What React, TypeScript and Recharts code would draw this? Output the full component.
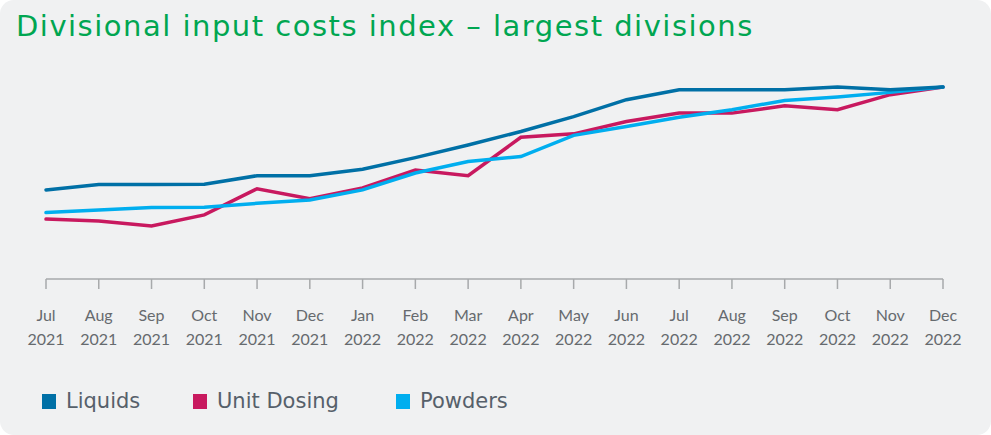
import React from 'react';
import { LineChart, Line, XAxis, YAxis } from 'recharts';

const months = ['Jul', 'Aug', 'Sep', 'Oct', 'Nov', 'Dec', 'Jan', 'Feb', 'Mar', 'Apr', 'May', 'Jun', 'Jul', 'Aug', 'Sep', 'Oct', 'Nov', 'Dec'];
const years = ['2021', '2021', '2021', '2021', '2021', '2021', '2022', '2022', '2022', '2022', '2022', '2022', '2022', '2022', '2022', '2022', '2022', '2022'];

const liquids = [73.2, 74.6, 74.6, 74.7, 76.9, 76.9, 78.6, 81.6, 84.9, 88.4, 92.3, 96.7, 99.3, 99.3, 99.3, 100, 99.3, 100];
const unitDosing = [65.6, 65.1, 63.8, 66.7, 73.5, 70.9, 73.7, 78.4, 76.9, 86.9, 87.8, 91.0, 93.2, 93.2, 95.1, 94.1, 98.0, 100];
const powders = [67.3, 68.0, 68.6, 68.7, 69.7, 70.6, 73.2, 77.6, 80.6, 81.9, 87.4, 89.7, 92.1, 94.1, 96.5, 97.4, 98.6, 100];

const series = [
  { key: 'liquids', name: 'Liquids', color: '#0070a6' },
  { key: 'unitDosing', name: 'Unit Dosing', color: '#c8195f' },
  { key: 'powders', name: 'Powders', color: '#00aeef' },
];

const data = months.map((m, i) => ({
  label: `${m} ${years[i]}`,
  liquids: liquids[i],
  unitDosing: unitDosing[i],
  powders: powders[i],
}));

const TICK_FONT = 'Lato, "Open Sans", sans-serif';
const WIDE_FONT = '"DejaVu Sans", sans-serif';

function MonthTick({ x, y, payload }: any) {
  const [m, yr] = String(payload.value).split(' ');
  return (
    <text x={x} y={y} textAnchor="middle" fill="#666a6e" fontSize={16} fontFamily={TICK_FONT}>
      <tspan x={x} dy={32}>{m}</tspan>
      <tspan x={x} dy={24}>{yr}</tspan>
    </text>
  );
}

// legend drawn as plain html under the plot
function SquareLegend() {
  return (
    <div
      style={{
        position: 'absolute',
        left: 42,
        top: 389,
        display: 'flex',
        fontFamily: WIDE_FONT,
        fontSize: 21,
        color: '#56606a',
      }}
    >
      {series.map((s, i) => (
        <div
          key={s.key}
          style={{ display: 'flex', alignItems: 'center', width: i === 0 ? 151 : 203 }}
        >
          <span style={{ width: 14, height: 15, background: s.color, marginRight: 10, display: 'inline-block' }} />
          <span>{s.name}</span>
        </div>
      ))}
    </div>
  );
}

export default function App() {
  return (
    <div
      style={{
        position: 'absolute',
        left: 0,
        top: 0,
        width: 991,
        height: 435,
        background: '#f0f1f2',
        borderRadius: 14,
        overflow: 'hidden',
      }}
    >
      <div
        style={{
          position: 'absolute',
          left: 16,
          top: 9,
          fontFamily: WIDE_FONT,
          fontSize: 29,
          letterSpacing: 1.5,
          color: '#00a651',
          whiteSpace: 'nowrap',
        }}
      >
        Divisional input costs index – largest divisions
      </div>
      <LineChart
        width={991}
        height={435}
        data={data}
        margin={{ top: 87, right: 48, left: 46, bottom: 86 }}
      >
        <XAxis
          dataKey="label"
          interval={0}
          stroke="#a7a9ab"
          strokeWidth={1.5}
          tickSize={10}
          tickMargin={0}
          height={70}
          tick={<MonthTick />}
        />
        <YAxis hide domain={[50, 100]} />
        <Line dataKey="unitDosing" name="Unit Dosing" stroke="#c8195f" strokeWidth={3.5} dot={false} isAnimationActive={false} strokeLinecap="round" />
        <Line dataKey="powders" name="Powders" stroke="#00aeef" strokeWidth={3.5} dot={false} isAnimationActive={false} strokeLinecap="round" />
        <Line dataKey="liquids" name="Liquids" stroke="#0070a6" strokeWidth={3.5} dot={false} isAnimationActive={false} strokeLinecap="round" />
      </LineChart>
      <SquareLegend />
    </div>
  );
}
